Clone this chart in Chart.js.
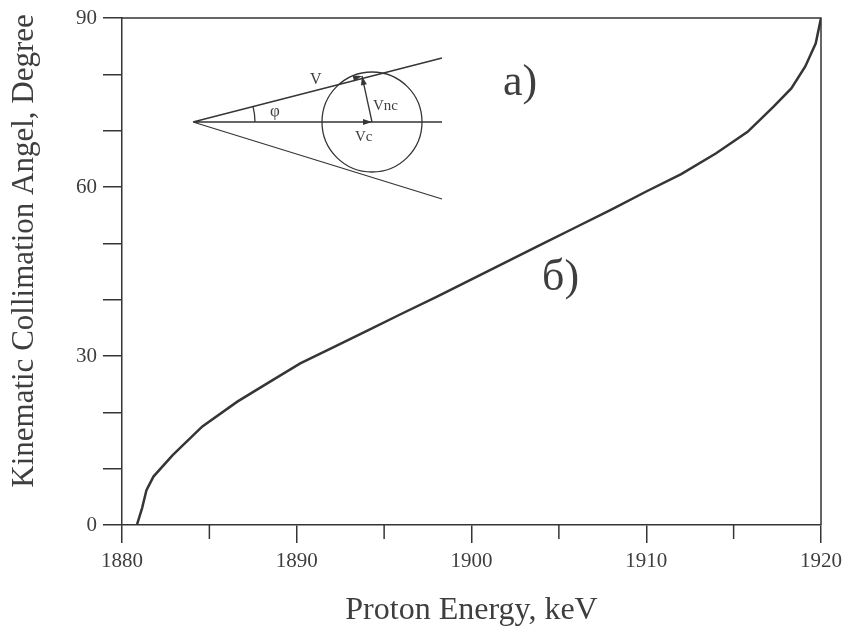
<!DOCTYPE html>
<html>
<head>
<meta charset="utf-8">
<script src="https://cdn.jsdelivr.net/npm/chart.js@4.4.1/dist/chart.umd.min.js"></script>
<style>
  html, body { margin: 0; padding: 0; background: #fff; }
  #wrap { width: 843px; height: 630px; }
</style>
</head>
<body>
<div id="wrap"><canvas id="chart" width="843" height="630"></canvas></div>
<script>
// proton energy (keV) vs kinematic collimation angle (deg)
const energy = [1880.85, 1881.15, 1881.4, 1881.8, 1882.9, 1884.6, 1886.6, 1888.5, 1890.2, 1892.2,
  1894.1, 1896, 1898, 1900, 1902, 1904, 1906, 1908, 1910, 1912,
  1914, 1915.8, 1917.3, 1918.3, 1919.1, 1919.7, 1920];
const angle = [0, 3, 6.2, 8.6, 12.4, 17.5, 21.9, 25.5, 28.7, 31.7,
  34.6, 37.5, 40.5, 43.6, 46.7, 49.8, 52.9, 56, 59.2, 62.3,
  66, 69.8, 74.3, 77.5, 81.4, 85.5, 90];

const xTicks = [1880, 1890, 1900, 1910, 1920];
const xMinorTicks = [1885, 1895, 1905, 1915];
const yTicks = [0, 10, 20, 30, 40, 50, 60, 70, 80, 90];
const yLabels = [0, 30, 60, 90];

const SERIF = "'Liberation Serif', 'DejaVu Serif', serif";
const INK = "#353535";
const TEXT = "#3e3e3e";

// frame, minor ticks, inset sketch and labels
const extrasPlugin = {
  id: "extras",
  afterDraw(chart) {
    const { ctx, chartArea, scales } = chart;
    ctx.save();
    ctx.strokeStyle = INK;
    ctx.lineWidth = 1.5;

    // top + right frame
    ctx.beginPath();
    ctx.moveTo(chartArea.left, chartArea.top);
    ctx.lineTo(chartArea.right, chartArea.top);
    ctx.lineTo(chartArea.right, chartArea.bottom);
    ctx.stroke();

    // shorter minor ticks on x
    xMinorTicks.forEach((v) => {
      const px = scales.x.getPixelForValue(v);
      ctx.beginPath();
      ctx.moveTo(px, chartArea.bottom);
      ctx.lineTo(px, chartArea.bottom + 14);
      ctx.stroke();
    });

    // inset sketch a)
    const ax = 193, ay = 122;
    const cx = 372, cy = 122, r = 50;
    const tx = 362, ty = 76;
    ctx.lineWidth = 1.3;
    ctx.beginPath();
    ctx.moveTo(ax, ay); ctx.lineTo(442, 58);
    ctx.moveTo(ax, ay); ctx.lineTo(442, 199);
    ctx.moveTo(ax, ay); ctx.lineTo(442, ay);
    ctx.stroke();
    ctx.beginPath();
    ctx.arc(cx, cy, r, 0, Math.PI * 2);
    ctx.stroke();
    ctx.beginPath();
    ctx.arc(ax, ay, 62, -Math.atan2(64, 249), 0);
    ctx.stroke();
    ctx.beginPath();
    ctx.moveTo(cx, cy); ctx.lineTo(tx, ty);
    ctx.stroke();

    const arrowHead = (x0, y0, x1, y1) => {
      const a = Math.atan2(y1 - y0, x1 - x0);
      const len = 9, w = 3;
      ctx.beginPath();
      ctx.moveTo(x1, y1);
      ctx.lineTo(x1 - len * Math.cos(a) + w * Math.sin(a), y1 - len * Math.sin(a) - w * Math.cos(a));
      ctx.lineTo(x1 - len * Math.cos(a) - w * Math.sin(a), y1 - len * Math.sin(a) + w * Math.cos(a));
      ctx.closePath();
      ctx.fillStyle = INK;
      ctx.fill();
    };
    arrowHead(ax, ay, tx, ty);
    arrowHead(cx, cy, tx, ty);
    arrowHead(ax, ay, cx, cy);

    ctx.fillStyle = TEXT;
    ctx.textBaseline = "alphabetic";
    ctx.textAlign = "left";
    ctx.font = "16px " + SERIF;
    ctx.fillText("V", 310, 84);
    ctx.font = "15px " + SERIF;
    ctx.fillText("Vnc", 373, 110);
    ctx.fillText("Vc", 355, 141);
    ctx.font = "17px " + SERIF;
    ctx.fillText("φ", 270, 116);

    ctx.font = "44px " + SERIF;
    ctx.fillText("a)", 503, 95);
    ctx.fillText("б)", 542, 290);

    // y axis title
    ctx.save();
    ctx.translate(33, 251);
    ctx.rotate(-Math.PI / 2);
    ctx.textAlign = "center";
    ctx.font = "31px " + SERIF;
    ctx.fillText("Kinematic Collimation Angel, Degree", 0, 0);
    ctx.restore();

    ctx.restore();
  },
};

new Chart(document.getElementById("chart").getContext("2d"), {
  type: "scatter",
  data: {
    datasets: [{
      data: energy.map((e, i) => ({ x: e, y: angle[i] })),
      showLine: true,
      borderColor: INK,
      borderWidth: 2.5,
      pointRadius: 0,
      tension: 0,
    }],
  },
  options: {
    responsive: false,
    animation: false,
    layout: { padding: { top: 18, right: 22, left: 0, bottom: 0 } },
    plugins: {
      legend: { display: false },
      tooltip: { enabled: false },
    },
    scales: {
      x: {
        type: "linear",
        min: 1880,
        max: 1920,
        afterBuildTicks: (s) => { s.ticks = xTicks.map((v) => ({ value: v })); },
        afterFit: (s) => {
          s.height = 105;
          s.paddingLeft = 0;
          s.paddingRight = 0;
        },
        ticks: {
          color: TEXT,
          padding: 6,
          maxRotation: 0,
          font: { family: SERIF, size: 21 },
          callback: (v) => String(v),
        },
        grid: { drawOnChartArea: false, tickLength: 18, color: INK, lineWidth: 1.5 },
        border: { color: INK, width: 1.5 },
        title: {
          display: true,
          text: "Proton Energy, keV",
          color: TEXT,
          font: { family: SERIF, size: 32 },
          padding: { top: 0, bottom: 0 },
        },
      },
      y: {
        min: 0,
        max: 90,
        afterBuildTicks: (s) => { s.ticks = yTicks.map((v) => ({ value: v })); },
        afterFit: (s) => {
          s.width = 122;
          s.paddingTop = 0;
          s.paddingBottom = 0;
        },
        ticks: {
          color: TEXT,
          padding: 6,
          font: { family: SERIF, size: 21 },
          callback: (v) => (yLabels.includes(v) ? String(v) : ""),
        },
        grid: { drawOnChartArea: false, tickLength: 19, color: INK, lineWidth: 1.5 },
        border: { color: INK, width: 1.5 },
      },
    },
  },
  plugins: [extrasPlugin],
});
</script>
</body>
</html>
